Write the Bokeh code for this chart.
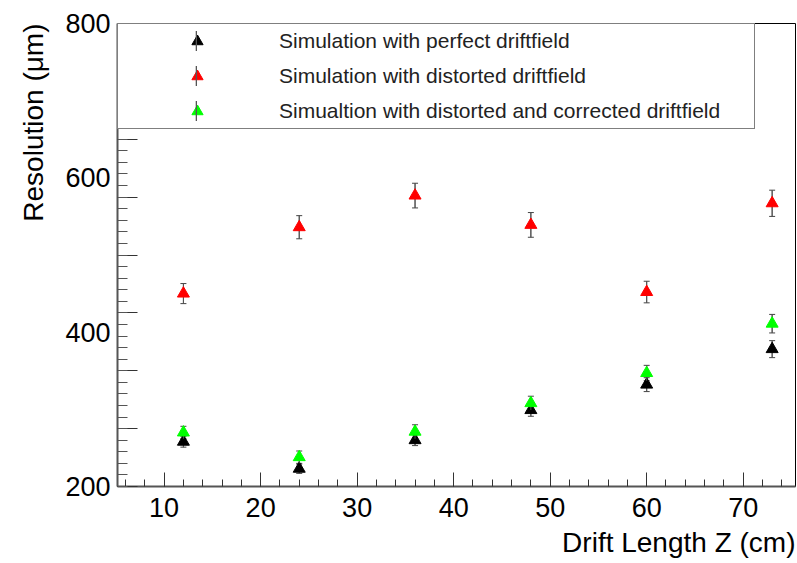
from bokeh.plotting import figure
from bokeh.models import (ColumnDataSource, FixedTicker, LinearAxis, Whisker, TeeHead,
                          Legend, LegendItem, Title, Range1d)
from bokeh.embed import file_html
from bokeh.resources import INLINE

# ---- data ----
drift_z = [12, 24, 36, 48, 60, 73]
perfect = [258, 223, 260, 299, 332, 378]
perfect_err = [7, 6, 7, 8, 9, 11]
distorted = [450, 536, 577, 539, 452, 567]
distorted_err = [13, 15, 16, 16, 14, 17]
corrected = [270, 238, 271, 308, 347, 411]
corrected_err = [8, 8, 9, 9, 10, 12]

series_labels = ["Simulation with perfect driftfield",
                 "Simulation with distorted driftfield",
                 "Simualtion with distorted and corrected driftfield"]
x_major = [10, 20, 30, 40, 50, 60, 70]
x_minor = list(range(6, 76, 2))
y_labels = [200, 400, 600, 800]
y_major = list(range(200, 801, 75))
y_minor = list(range(200, 801, 15))

FONT = "Liberation Sans"
W, H = 797, 563
LEFT, RIGHT, TOP, BOTTOM = 117, 2, 23, 77
FW = W - LEFT - RIGHT
FH = H - TOP - BOTTOM

p = figure(width=W, height=H, output_backend="svg", toolbar_location=None,
           x_range=Range1d(5.17, 75.42), y_range=Range1d(200, 800),
           min_border_left=LEFT, min_border_right=RIGHT,
           min_border_top=TOP, min_border_bottom=BOTTOM)
p.xgrid.visible = False
p.ygrid.visible = False
p.outline_line_color = "black"
p.outline_line_width = 1
p.background_fill_color = "white"
p.border_fill_color = "white"

# x axis
xa = p.xaxis[0]
xa.ticker = FixedTicker(ticks=x_major, minor_ticks=x_minor)
xa.major_tick_in = 14
xa.major_tick_out = 0
xa.minor_tick_in = 7
xa.minor_tick_out = 0
xa.axis_line_color = "#555555"
xa.axis_line_width = 2
xa.major_tick_line_color = "#333333"
xa.minor_tick_line_color = "#333333"
xa.major_label_text_font = FONT
xa.major_label_text_font_size = "27px"
xa.major_label_text_color = "black"
xa.major_label_standoff = 11

# y axis: ticks only (labels are blank)
ya = p.yaxis[0]
ya.ticker = FixedTicker(ticks=y_major, minor_ticks=y_minor)
ya.major_tick_in = 20
ya.major_tick_out = 0
ya.minor_tick_in = 10
ya.minor_tick_out = 0
ya.axis_line_color = "#555555"
ya.axis_line_width = 2
ya.major_tick_line_color = "#333333"
ya.minor_tick_line_color = "#555555"
ya.major_label_overrides = {t: "" for t in y_major}
ya.major_label_standoff = 0

# y axis: labels only
yb = LinearAxis(ticker=FixedTicker(ticks=y_labels, minor_ticks=[]),
                major_tick_in=0, major_tick_out=0, minor_tick_in=0, minor_tick_out=0,
                axis_line_color=None, major_label_standoff=7,
                major_label_text_font=FONT, major_label_text_font_size="27px",
                major_label_text_color="black")
p.add_layout(yb, "left")

# axis titles (right / top aligned as in the reference)
p.add_layout(Title(text="Drift Length Z (cm)", align="right", text_font=FONT,
                   text_font_size="28px", text_font_style="normal",
                   text_color="black", standoff=10), "below")
p.add_layout(Title(text="Resolution (μm)", align="right", text_font=FONT,
                   text_font_size="28px", text_font_style="normal",
                   text_color="black", standoff=27), "left")

colors = ["#000000", "#ff0000", "#00ff00"]
values = [perfect, distorted, corrected]
errors = [perfect_err, distorted_err, corrected_err]

main_items, bar_items = [], []
for lab, col, val, err in zip(series_labels, colors, values, errors):
    src = ColumnDataSource(dict(z=drift_z, v=val,
                                lo=[a - b for a, b in zip(val, err)],
                                hi=[a + b for a, b in zip(val, err)]))
    wh = Whisker(source=src, base="z", upper="hi", lower="lo", dimension="height",
                 line_color="#444444", line_width=1,
                 upper_head=TeeHead(size=6, line_color="#444444", line_width=1),
                 lower_head=TeeHead(size=6, line_color="#444444", line_width=1))
    p.add_layout(wh)
    bar = p.vbar(x="z", bottom="lo", top="hi", width=0.1, source=src,
                 fill_color="#555555", line_color=None)
    tri = p.scatter("z", "v", source=src, marker="triangle", size=12,
                    fill_color=col, line_color=col)
    main_items.append(LegendItem(label=lab, renderers=[tri]))
    bar_items.append(LegendItem(label=" ", renderers=[bar]))

# legend box with texts and markers
legend = Legend(items=main_items, location="top_left", margin=0, padding=3, spacing=7,
                glyph_height=28, glyph_width=152, label_standoff=6, label_width=472,
                label_height=28,
                border_line_color="black", border_line_width=1,
                background_fill_color="white", background_fill_alpha=1.0,
                label_text_font=FONT, label_text_font_size="21px",
                label_text_color="#222222")
p.add_layout(legend)

# thin vertical error-bar strokes through the legend markers
GH, GW = 25, 2
bar_legend = Legend(items=bar_items, location=(78, FH - 5 - (3 * GH + 20)),
                    margin=0, padding=0, spacing=35 - GH, glyph_height=GH, glyph_width=GW,
                    label_standoff=0, label_width=1, label_height=10,
                    border_line_color=None, background_fill_alpha=0.0,
                    label_text_font_size="2px")
p.add_layout(bar_legend)

open("out.html", "w").write(file_html(p, INLINE))
